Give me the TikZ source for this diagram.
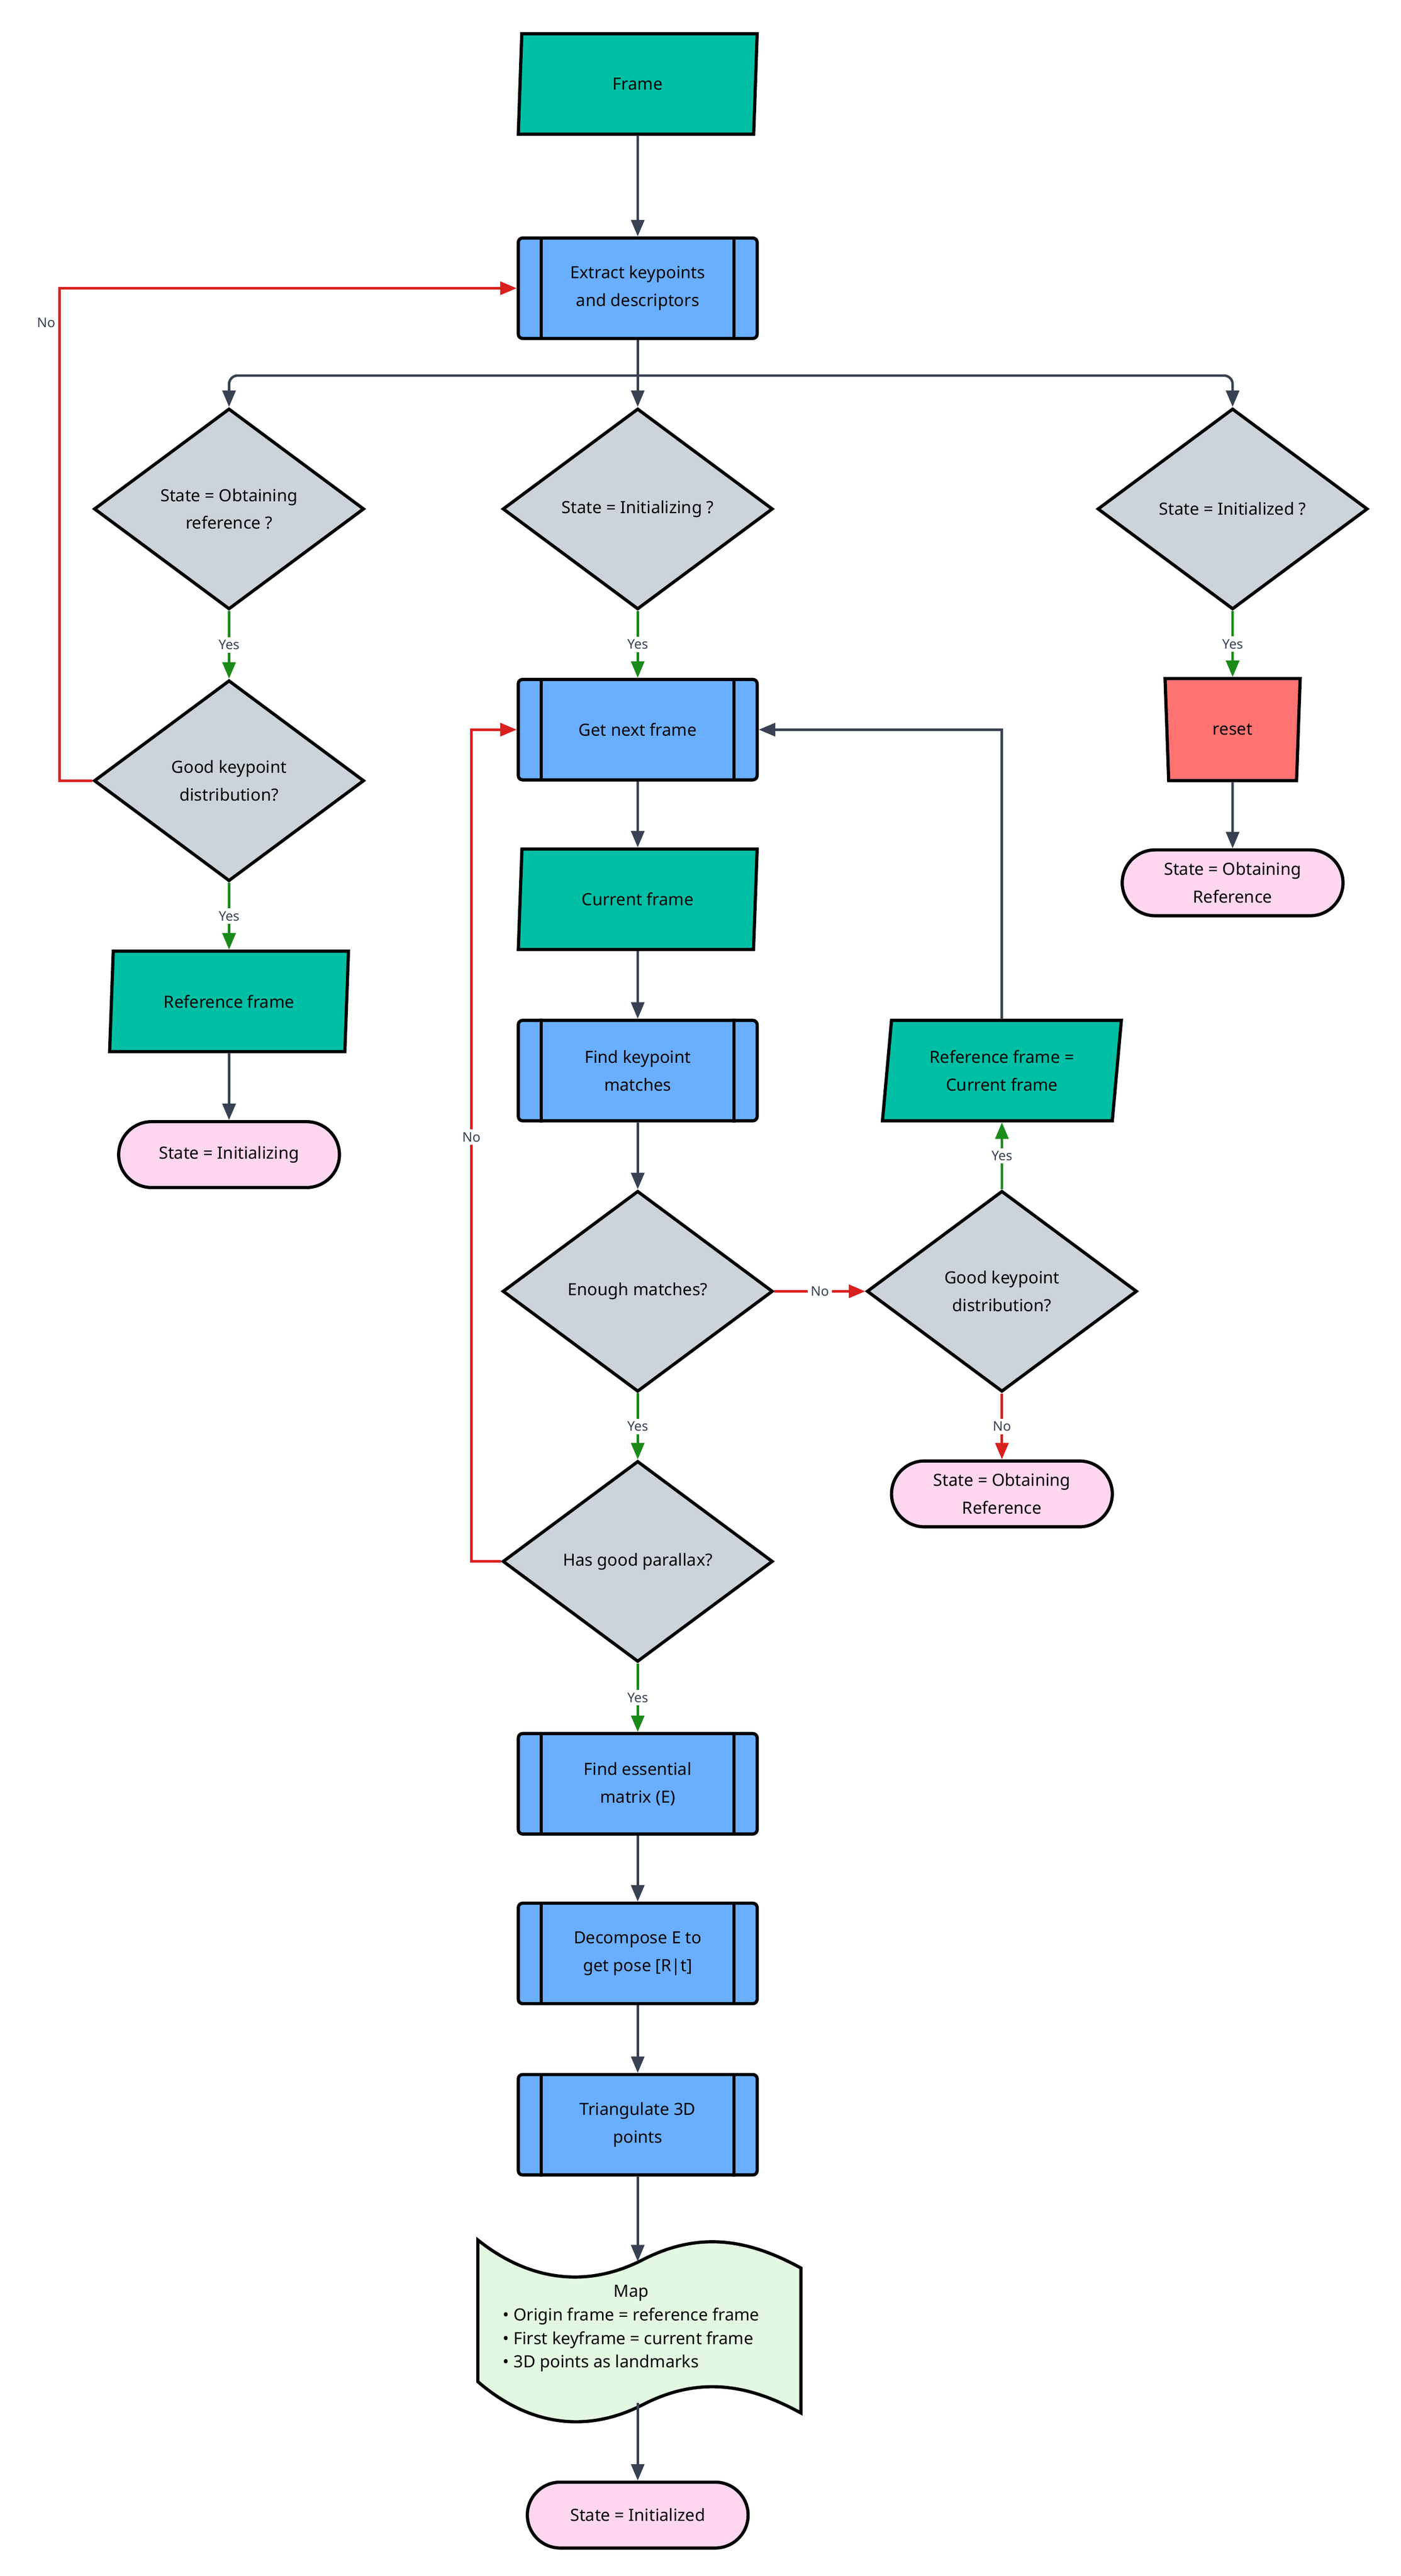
\documentclass[tikz,border=0pt]{standalone}
\usepackage{fontspec}
\setmainfont{Noto Sans}
\usetikzlibrary{arrows.meta}
\usetikzlibrary{shapes.geometric}
\usetikzlibrary{positioning}

\definecolor{teal}{HTML}{00BFA5}
\definecolor{procblue}{HTML}{6AAFFF}
\definecolor{decgray}{HTML}{CDD3DB}
\definecolor{termpink}{HTML}{FFD6F0}
\definecolor{mapgreen}{HTML}{E2F8E0}
\definecolor{resetred}{HTML}{FF7373}
\definecolor{linegray}{HTML}{374151}
\definecolor{nored}{HTML}{D92020}
\definecolor{yesgreen}{HTML}{1A8A1A}

\tikzset{
  every node/.style={font=\fontsize{5.8}{9.6}\selectfont, align=center, inner sep=1pt},
  box/.style={draw=black, line width=1.1pt},
  proc/.style={box, rectangle, rounded corners=1.5pt, fill=procblue, minimum width=2.9cm, minimum height=1.22cm},
  io/.style={box, trapezium, trapezium left angle=79, trapezium right angle=101, trapezium stretches body, fill=teal, minimum width=2.9cm, minimum height=1.22cm},
  decision/.style={box, diamond, aspect=1.34, fill=decgray, minimum width=3.28cm, minimum height=2.44cm},
  term/.style={box, rectangle, rounded corners=0.4cm, fill=termpink, minimum width=2.68cm, minimum height=0.8cm},
  flow/.style={draw=linegray, line width=0.85pt, -{Triangle[length=0.2cm,width=0.16cm]}},
  yes/.style={flow, draw=yesgreen},
  no/.style={flow, draw=nored},
  lbl/.style={font=\fontsize{4.6}{5}\selectfont\bfseries, fill=white, inner sep=1pt, text=linegray},
}

\begin{document}
\begin{tikzpicture}[x=0.02cm, y=-0.02cm]
  \useasboundingbox (0,0) rectangle (850,1564);

  % left column
  \node [io] (frame) at (387,51) {Frame};
  \node [proc] (ext) at (387,175) {Extract keypoints\\and descriptors};
  \coordinate (split) at (387,228);
  \node [decision] (obt) at (139,309) {State = Obtaining\\reference ?};
  \node [decision] (ini) at (387,309) {State = Initializing ?};
  \node [decision] (done) at (748,309) {State = Initialized ?};
  \node [decision] (dist) at (139,474) {Good keypoint\\distribution?};
  \node [io] (ref) at (139,608) {Reference frame};
  \node [term] (sini) at (139,701) {State = Initializing};

  % middle column
  \node [proc] (next) at (387,443) {Get next frame};
  \node [io] (cur) at (387,546) {Current frame};
  \node [proc] (match) at (387,650) {Find keypoint\\matches};
  \node [decision] (enough) at (387,784) {Enough matches?};
  \node [decision] (par) at (387,948) {Has good parallax?};
  \node [proc] (ess) at (387,1083) {Find essential\\matrix (E)};
  \node [proc] (dec) at (387,1186) {Decompose E to\\get pose [R|t]};
  \node [proc] (tri) at (387,1290) {Triangulate 3D\\points};

  % map
  \draw [box, fill=mapgreen] (290,1360) .. controls (320,1384) and (355,1390) .. (390,1372)
    .. controls (425,1354) and (455,1360) .. (486,1377) -- (486,1465)
    .. controls (455,1448) and (425,1442) .. (390,1460)
    .. controls (355,1478) and (320,1472) .. (290,1446) -- cycle;
  \coordinate (mapin) at (387,1373);
  \coordinate (mapout) at (387,1459);
  \node (map) at (383,1415) {{\bfseries Map}\\[-1pt]
    \begin{tabular}{@{}l@{}}• Origin frame = reference frame\\[-1.5pt]• First keyframe = current frame\\[-1.5pt]• 3D points as landmarks\end{tabular}};
  \node [term] (sdone) at (387,1527) {State = Initialized};

  % right column
  \node [box, trapezium, shape border rotate=180, trapezium left angle=78, trapezium right angle=78,
    trapezium stretches body, fill=resetred, minimum width=1.64cm, minimum height=1.24cm] (reset) at (748,443) {reset};
  \node [term] (sobt1) at (748,536) {State = Obtaining\\Reference};
  \node [decision] (dist2) at (608,784) {Good keypoint\\distribution?};
  \node [io] (refcur) at (608,650) {Reference frame =\\Current frame};
  \node [term] (sobt2) at (608,907) {State = Obtaining\\Reference};

  \foreach \n in {ext,next,match,ess,dec,tri}
    \draw [line width=1.1pt] ([xshift=0.3cm]\n.north west) -- ([xshift=0.3cm]\n.south west)
      ([xshift=-0.3cm]\n.north east) -- ([xshift=-0.3cm]\n.south east);

  % connectors
  \draw [flow] (frame) -- (ext);
  \draw [draw=linegray, line width=0.85pt] (ext) -- (split);
  \draw [flow, rounded corners=3pt] (split) -| (obt.north);
  \draw [flow] (split) -- (ini);
  \draw [flow, rounded corners=3pt] (split) -| (done.north);
  \draw [yes] (obt) -- node [lbl] {Yes} (dist);
  \draw [yes] (dist) -- node [lbl] {Yes} (ref);
  \draw [flow] (ref) -- (sini);
  \draw [no] (dist.west) -- ++(-20,0) |- node [pos=0.465, lbl, fill=none, anchor=east] {No} (ext.west);
  \draw [yes] (ini) -- node [lbl] {Yes} (next);
  \draw [yes] (done) -- node [lbl] {Yes} (reset);
  \draw [flow] (reset) -- (sobt1);
  \draw [flow] (next) -- (cur);
  \draw [flow] (cur) -- (match);
  \draw [flow] (match) -- (enough);
  \draw [no] (enough) -- node [lbl] {No} (dist2);
  \draw [yes] (dist2) -- node [lbl] {Yes} (refcur);
  \draw [no] (dist2) -- node [lbl] {No} (sobt2);
  \draw [flow] (refcur.north) |- (next.east);
  \draw [yes] (enough) -- node [lbl] {Yes} (par);
  \draw [no] (par.west) -- ++(-18,0) |- node [pos=0.255, lbl] {No} (next.west);
  \draw [yes] (par) -- node [lbl] {Yes} (ess);
  \draw [flow] (ess) -- (dec);
  \draw [flow] (dec) -- (tri);
  \draw [flow] (tri) -- (mapin);
  \draw [flow] (mapout) -- (sdone);
\end{tikzpicture}
\end{document}
